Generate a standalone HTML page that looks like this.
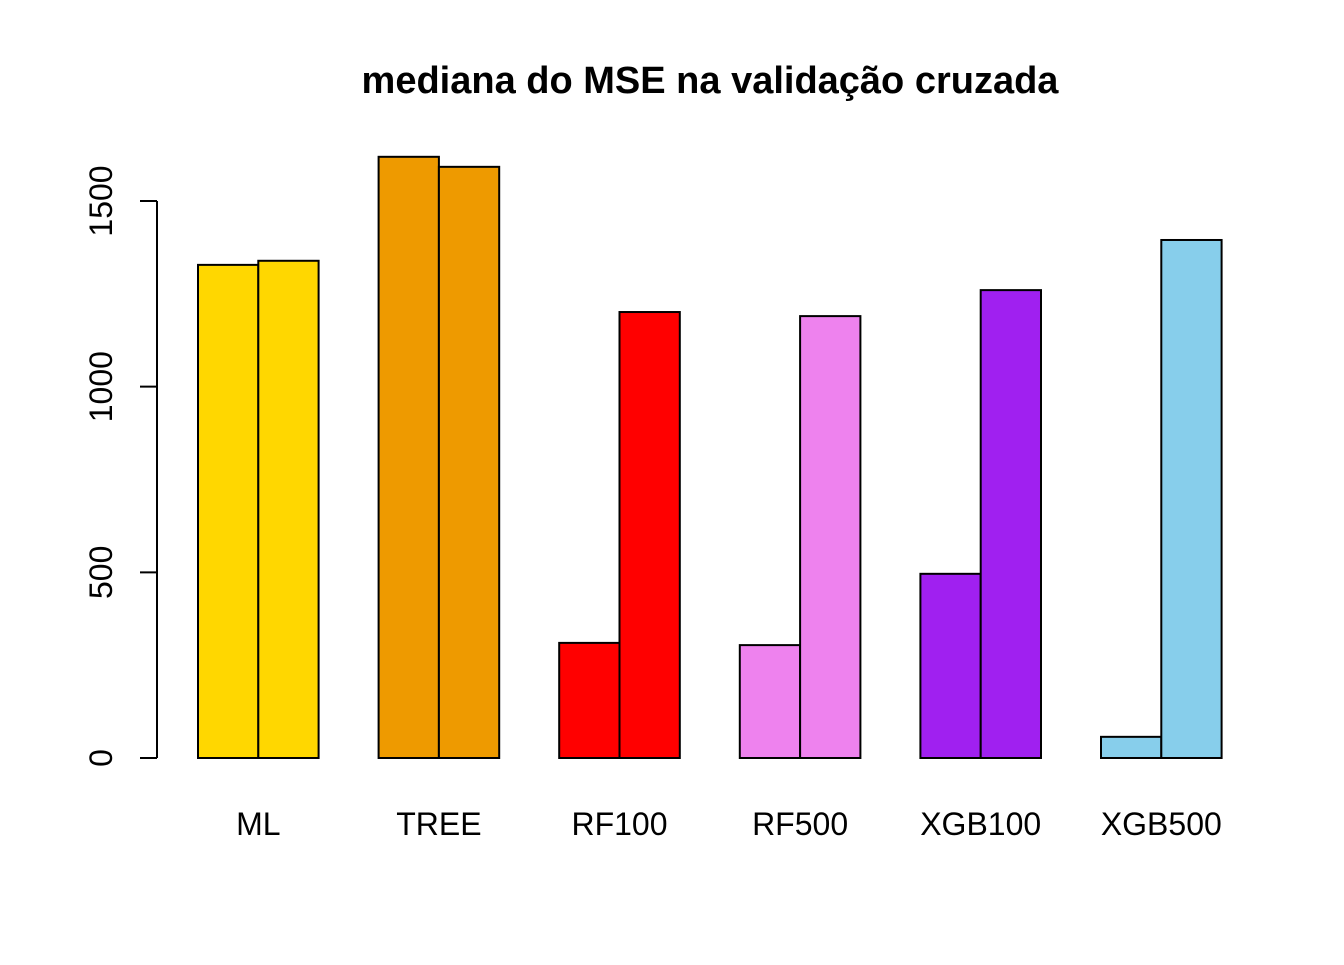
<!DOCTYPE html>
<html><head><meta charset="utf-8"><style>
html,body{margin:0;padding:0;background:#fff;}
svg text{font-family:"Liberation Sans",Arial,sans-serif;}
</style></head><body>
<svg id="chart" width="1344" height="960" viewBox="0 0 1344 960">
<text x="710" y="93" text-anchor="middle" font-size="38" font-weight="bold">mediana do MSE na validação cruzada</text>
<g id="bars"></g>
<g id="yaxis"></g>
<g id="xlabels"></g>
</svg>
<script>
const categories = ["ML","TREE","RF100","RF500","XGB100","XGB500"];
const series1 = [1328,1619,310,304,496,57];
const series2 = [1339,1592,1201,1190,1260,1395];
const colors = ["#FFD700","#EE9A00","#FF0000","#EE82EE","#A020F0","#87CEEB"];
const yTicks = [0,500,1000,1500];

const NS="http://www.w3.org/2000/svg";
const y0=758, pxPer=(758-201)/1500;
const y = v => y0 - v*pxPer;
const groupStart = i => 198 + i*180.6;
const bw = 60.3;
const bars=document.getElementById('bars');
function rect(x,v,c,name){
  const r=document.createElementNS(NS,'rect');
  r.setAttribute('x',x);r.setAttribute('y',y(v));
  r.setAttribute('width',bw);r.setAttribute('height',y0-y(v));
  r.setAttribute('fill',c);r.setAttribute('stroke','#000');r.setAttribute('stroke-width','2');
  
  
  bars.appendChild(r);
}
categories.forEach((c,i)=>{
  rect(groupStart(i),series1[i],colors[i],'bar-'+c.toLowerCase()+'-1');
  rect(groupStart(i)+bw,series2[i],colors[i],'bar-'+c.toLowerCase()+'-2');
  const t=document.createElementNS(NS,'text');
  t.setAttribute('x',groupStart(i)+bw);t.setAttribute('y',835);
  t.setAttribute('text-anchor','middle');t.setAttribute('font-size','32');
  t.textContent=c;
  
  
  document.getElementById('xlabels').appendChild(t);
});
const ya=document.getElementById('yaxis');
const ax=document.createElementNS(NS,'line');
ax.setAttribute('x1',157);ax.setAttribute('x2',157);
ax.setAttribute('y1',y(yTicks[0]));ax.setAttribute('y2',y(yTicks[yTicks.length-1]));
ax.setAttribute('stroke','#000');ax.setAttribute('stroke-width','2');


ya.appendChild(ax);
yTicks.forEach(v=>{
  const l=document.createElementNS(NS,'line');
  l.setAttribute('x1',140);l.setAttribute('x2',157);
  l.setAttribute('y1',y(v));l.setAttribute('y2',y(v));
  l.setAttribute('stroke','#000');l.setAttribute('stroke-width','2');
  
  
  ya.appendChild(l);
  const t=document.createElementNS(NS,'text');
  t.setAttribute('transform','translate(112,'+y(v)+') rotate(-90)');
  t.setAttribute('text-anchor','middle');t.setAttribute('font-size','32');
  t.textContent=v;
  
  
  ya.appendChild(t);
});
</script>
</body></html>
